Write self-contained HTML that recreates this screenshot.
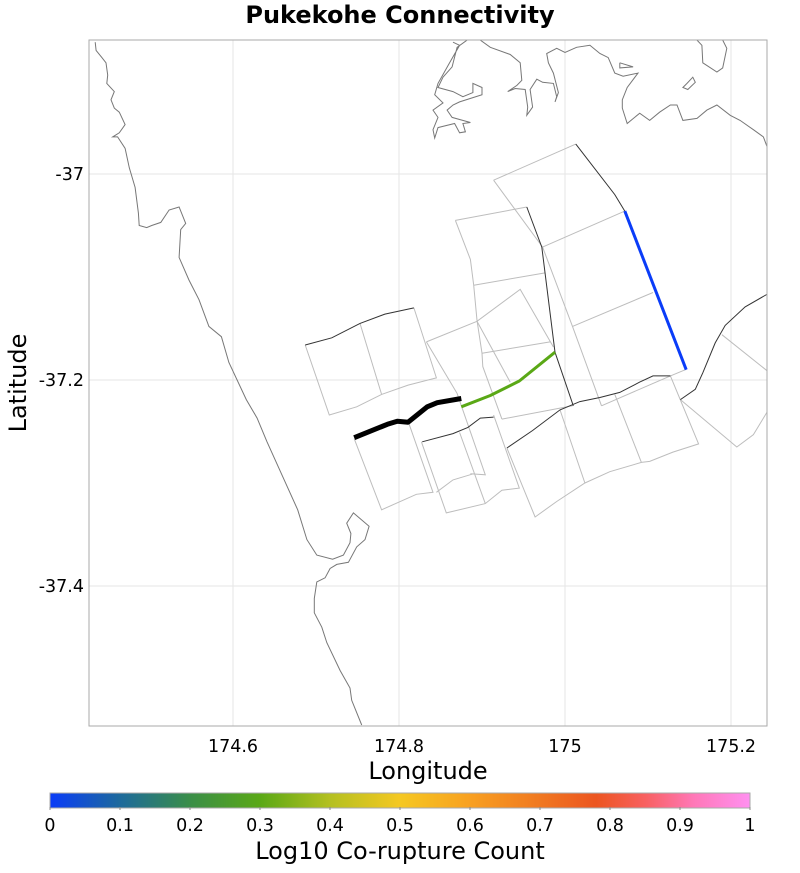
<!DOCTYPE html>
<html><head><meta charset="utf-8">
<style>
body{margin:0;background:#fff;}
svg{display:block;font-family:"DejaVu Sans","Liberation Sans",sans-serif;}
</style></head>
<body>
<svg id="chart" width="800" height="873" xmlns="http://www.w3.org/2000/svg">
<defs>
<clipPath id="plotclip"><rect x="89" y="40" width="678" height="686"/></clipPath>
<linearGradient id="cbgrad" x1="0" x2="1" y1="0" y2="0">
<stop offset="0" stop-color="#0a3cf8"/>
<stop offset="0.1" stop-color="#1d6a9c"/>
<stop offset="0.2" stop-color="#3a8e48"/>
<stop offset="0.3" stop-color="#5aa816"/>
<stop offset="0.4" stop-color="#b4c020"/>
<stop offset="0.5" stop-color="#f5c822"/>
<stop offset="0.6" stop-color="#f8a020"/>
<stop offset="0.7" stop-color="#f07820"/>
<stop offset="0.78" stop-color="#ec5520"/>
<stop offset="0.85" stop-color="#f86060"/>
<stop offset="0.92" stop-color="#ff78b8"/>
<stop offset="1" stop-color="#ff90f0"/>
</linearGradient>
</defs>
<text x="400" y="23" text-anchor="middle" font-size="24" font-weight="bold">Pukekohe Connectivity</text>
<g id="grid"></g>
<g id="map" clip-path="url(#plotclip)"></g>
<rect x="89" y="40" width="678" height="686" fill="none" stroke="#aaa" stroke-width="1"/>
<g id="axes"></g>
<text x="428" y="779" text-anchor="middle" font-size="24">Longitude</text>
<text x="26" y="383" text-anchor="middle" font-size="24" transform="rotate(-90 26 383)">Latitude</text>
<rect x="50" y="793" width="700" height="15" fill="url(#cbgrad)" stroke="#aaa" stroke-width="1"/>
<g id="cbticks"></g>
<text x="400" y="859" text-anchor="middle" font-size="24">Log10 Co-rupture Count</text>
</svg>
<script>
const lonTicks=[174.6,174.8,175,175.2];
const latTicks=[-37,-37.2,-37.4];
const cbTicks=[0,0.1,0.2,0.3,0.4,0.5,0.6,0.7,0.8,0.9,1];
const ruptureNames=['parent-section','rupture-green','rupture-blue'];
const ruptureValues=[null,0.3,0];
const ruptureTraces=[
[[174.746,-37.256],[174.786,-37.243],[174.798,-37.240],[174.811,-37.241],[174.834,-37.226],[174.846,-37.222],[174.875,-37.218]],
[[174.875,-37.226],[174.910,-37.215],[174.945,-37.201],[174.988,-37.173]],
[[175.072,-37.036],[175.146,-37.190]]
];
const faultTraces=[
[[175.013,-36.971],[175.060,-37.020],[175.072,-37.036]],
[[174.954,-37.032],[174.972,-37.071],[174.988,-37.173],[175.010,-37.225]],
[[174.687,-37.166],[174.719,-37.159],[174.753,-37.145],[174.783,-37.136],[174.818,-37.130]],
[[174.828,-37.260],[174.865,-37.252],[174.883,-37.246],[174.898,-37.237],[174.914,-37.236]],
[[174.930,-37.266],[174.961,-37.249],[174.994,-37.229],[175.018,-37.221],[175.042,-37.217],[175.066,-37.212],[175.090,-37.202],[175.106,-37.196],[175.127,-37.196]],
[[175.139,-37.219],[175.157,-37.209],[175.166,-37.193],[175.181,-37.164],[175.193,-37.147],[175.217,-37.129],[175.243,-37.117]]
];
const sectionOutlines=[
[[174.914,-37.006],[174.973,-37.071],[175.009,-37.148],[175.044,-37.225]],
[[174.914,-37.006],[175.013,-36.971]],
[[174.973,-37.071],[175.072,-37.036]],
[[175.009,-37.148],[175.106,-37.115]],
[[175.044,-37.225],[175.127,-37.196],[175.145,-37.190]],
[[174.868,-37.045],[174.954,-37.032]],
[[174.868,-37.045],[174.886,-37.083],[174.890,-37.108],[174.894,-37.142],[174.900,-37.174],[174.901,-37.187],[174.924,-37.238]],
[[174.890,-37.108],[174.976,-37.096]],
[[174.900,-37.174],[174.982,-37.163]],
[[174.924,-37.238],[175.009,-37.225]],
[[174.833,-37.163],[174.894,-37.143],[174.946,-37.112],[174.986,-37.168]],
[[174.894,-37.143],[174.934,-37.202]],
[[174.833,-37.163],[174.870,-37.213],[174.904,-37.292],[174.886,-37.291]],
[[174.687,-37.166],[174.716,-37.234],[174.749,-37.226],[174.779,-37.214],[174.811,-37.205],[174.845,-37.198],[174.818,-37.130]],
[[174.753,-37.145],[174.779,-37.214]],
[[174.746,-37.257],[174.779,-37.326],[174.821,-37.311],[174.841,-37.309],[174.811,-37.240]],
[[174.827,-37.260],[174.857,-37.329],[174.904,-37.320],[174.924,-37.307],[174.945,-37.305],[174.914,-37.234]],
[[174.845,-37.309],[174.865,-37.297],[174.890,-37.291]],
[[174.873,-37.251],[174.904,-37.320]],
[[174.930,-37.266],[174.964,-37.333],[174.990,-37.318],[175.024,-37.300],[175.054,-37.289],[175.092,-37.280],[175.102,-37.279],[175.130,-37.270],[175.161,-37.262],[175.127,-37.196]],
[[174.994,-37.229],[175.024,-37.300]],
[[175.060,-37.214],[175.092,-37.280]],
[[175.139,-37.219],[175.207,-37.265],[175.227,-37.253],[175.245,-37.229]],
[[175.189,-37.156],[175.245,-37.192]]
];
const coastlines=[
[[174.434,-36.872],[174.435,-36.880],[174.442,-36.887],[174.447,-36.892],[174.449,-36.904],[174.448,-36.912],[174.457,-36.920],[174.453,-36.928],[174.457,-36.936],[174.463,-36.940],[174.470,-36.952],[174.463,-36.960],[174.455,-36.964],[174.461,-36.964],[174.470,-36.975],[174.475,-36.994],[174.482,-37.013],[174.486,-37.038],[174.487,-37.050],[174.496,-37.052],[174.502,-37.050],[174.513,-37.047],[174.523,-37.035],[174.535,-37.032],[174.543,-37.048],[174.537,-37.054],[174.535,-37.081],[174.547,-37.103],[174.559,-37.122],[174.571,-37.148],[174.586,-37.158],[174.595,-37.183],[174.616,-37.219],[174.629,-37.237],[174.641,-37.260],[174.660,-37.294],[174.678,-37.326],[174.689,-37.355],[174.701,-37.370],[174.720,-37.374],[174.733,-37.370],[174.741,-37.358],[174.742,-37.349],[174.737,-37.339],[174.745,-37.329],[174.764,-37.342],[174.759,-37.355],[174.749,-37.362],[174.739,-37.377],[174.725,-37.379],[174.717,-37.383],[174.711,-37.392],[174.701,-37.396],[174.698,-37.412],[174.698,-37.426],[174.707,-37.440],[174.713,-37.455],[174.729,-37.482],[174.741,-37.499],[174.743,-37.511],[174.755,-37.535]],
[[174.882,-36.870],[174.870,-36.877],[174.864,-36.896],[174.853,-36.906],[174.847,-36.916],[174.865,-36.920],[174.877,-36.925],[174.889,-36.921],[174.889,-36.912],[174.900,-36.916],[174.900,-36.923],[174.873,-36.930],[174.865,-36.933],[174.858,-36.938],[174.864,-36.945],[174.886,-36.950],[174.877,-36.951],[174.880,-36.959],[174.873,-36.960],[174.867,-36.951],[174.847,-36.955],[174.843,-36.965],[174.841,-36.957],[174.847,-36.945],[174.841,-36.938],[174.853,-36.931],[174.843,-36.923],[174.847,-36.912],[174.861,-36.892],[174.873,-36.875],[174.865,-36.872]],
[[174.898,-36.870],[174.910,-36.877],[174.934,-36.884],[174.946,-36.892],[174.948,-36.909],[174.942,-36.914],[174.931,-36.920],[174.940,-36.917],[174.952,-36.918],[174.955,-36.935],[174.954,-36.943],[174.961,-36.935],[174.958,-36.918],[174.966,-36.908],[174.973,-36.911],[174.986,-36.912],[174.990,-36.925],[174.988,-36.930],[174.992,-36.921],[174.986,-36.902],[174.980,-36.892],[174.978,-36.883],[174.990,-36.878],[175.000,-36.882],[175.014,-36.877],[175.030,-36.875],[175.042,-36.883],[175.052,-36.887],[175.060,-36.902],[175.070,-36.905],[175.088,-36.902],[175.075,-36.916],[175.069,-36.928],[175.069,-36.936],[175.075,-36.951],[175.090,-36.941],[175.102,-36.948],[175.114,-36.940],[175.127,-36.933],[175.135,-36.933],[175.142,-36.948],[175.159,-36.946],[175.171,-36.938],[175.183,-36.933],[175.199,-36.943],[175.211,-36.948],[175.227,-36.957],[175.239,-36.964],[175.245,-36.977]],
[[175.066,-36.892],[175.082,-36.896],[175.066,-36.897],[175.066,-36.892]],
[[175.147,-36.912],[175.154,-36.906],[175.157,-36.911],[175.148,-36.918],[175.142,-36.916],[175.147,-36.912]],
[[175.159,-36.870],[175.165,-36.875],[175.166,-36.892],[175.183,-36.901],[175.190,-36.897],[175.195,-36.878],[175.190,-36.870]]
];
const NS='http://www.w3.org/2000/svg';
function X(lon){return 233+(lon-174.6)*830;}
function Y(lat){return 174+(-37-lat)*1030;}
const cstops=[[0,[10,60,248]],[0.1,[29,106,156]],[0.2,[58,142,72]],[0.3,[90,168,22]],[0.4,[180,192,32]],[0.5,[245,200,34]],[0.6,[248,160,32]],[0.7,[240,120,32]],[0.78,[236,85,32]],[0.85,[248,96,96]],[0.92,[255,120,184]],[1,[255,144,240]]];
function colorFor(v){
 if(v===null)return '#000';
 for(let i=1;i<cstops.length;i++){if(v<=cstops[i][0]){const a=cstops[i-1],b=cstops[i];const t=(v-a[0])/(b[0]-a[0]);const c=a[1].map((q,k)=>Math.round(q+(b[1][k]-q)*t));return 'rgb('+c.join(',')+')';}}
 return 'rgb(255,144,240)';
}
function mk(tag,attrs,parent){const e=document.createElementNS(NS,tag);for(const k in attrs)e.setAttribute(k,attrs[k]);parent.appendChild(e);return e;}
function pts(line){return line.map(p=>X(p[0]).toFixed(1)+','+Y(p[1]).toFixed(1)).join(' ');}
const grid=document.getElementById('grid'),map=document.getElementById('map'),axes=document.getElementById('axes'),cbt=document.getElementById('cbticks');
lonTicks.forEach(v=>{
 const l=mk('line',{x1:X(v),x2:X(v),y1:40,y2:726,stroke:'#e6e6e6','stroke-width':1},grid);
 
 
 const t=mk('text',{x:X(v),y:752,'text-anchor':'middle','font-size':17.5},axes);t.textContent=String(v);
 
 
});
latTicks.forEach(v=>{
 const l=mk('line',{x1:89,x2:767,y1:Y(v),y2:Y(v),stroke:'#e6e6e6','stroke-width':1},grid);
 
 
 const t=mk('text',{x:84,y:Y(v)+6,'text-anchor':'end','font-size':17.5},axes);t.textContent=String(v);
 
 
});
coastlines.forEach(c=>{
 const p=mk('polyline',{points:pts(c),fill:'none',stroke:'#777','stroke-width':1},map);
 
 
});
sectionOutlines.forEach(c=>{
 const p=mk('polyline',{points:pts(c),fill:'none',stroke:'#bdbdbd','stroke-width':1},map);
 
 
});
faultTraces.forEach(c=>{
 const p=mk('polyline',{points:pts(c),fill:'none',stroke:'#333','stroke-width':1},map);
 
 
});
ruptureTraces.forEach((c,i)=>{
 const p=mk('polyline',{points:pts(c),fill:'none',stroke:colorFor(ruptureValues[i]),'stroke-width':ruptureValues[i]===null?5:3,'stroke-linejoin':'round'},map);
 
 
});
cbTicks.forEach(v=>{
 const x=50+v*700;
 const l=mk('line',{x1:x,x2:x,y1:807,y2:810,stroke:'#888','stroke-width':1},cbt);
 
 
 const t=mk('text',{x:x,y:831,'text-anchor':'middle','font-size':17.5},cbt);t.textContent=String(v);
 
 
});
</script>
</body></html>
